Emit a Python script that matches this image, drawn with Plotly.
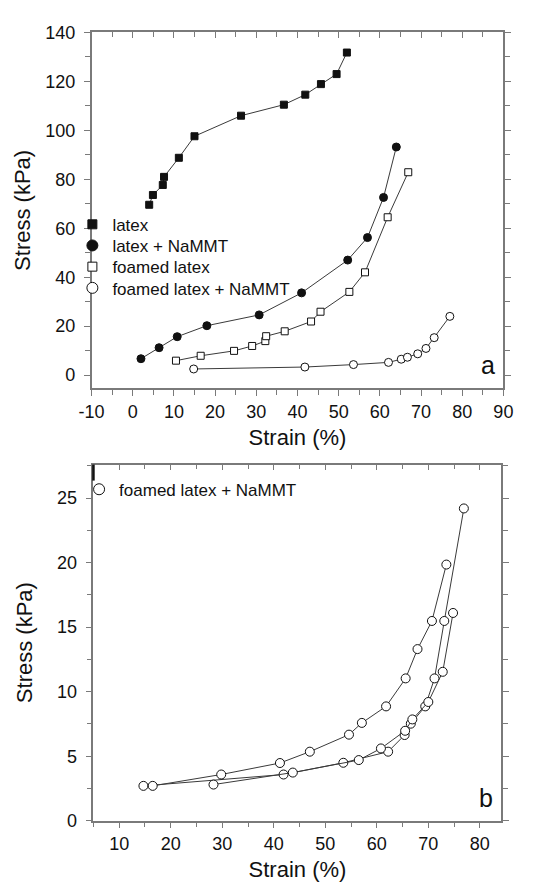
import plotly.graph_objects as go

# ---------------- data: panel a ----------------
latex_x = [4.0, 4.9, 7.3, 7.6, 11.2, 15.0, 26.3, 36.7, 41.9, 45.7, 49.5, 52.0]
latex_y = [69.6, 73.6, 77.7, 81.0, 88.8, 97.6, 106.0, 110.5, 114.6, 118.9, 123.0, 131.8]

latex_na_x = [2.0, 6.4, 10.8, 18.0, 30.7, 41.0, 52.2, 57.0, 60.9, 64.0]
latex_na_y = [6.7, 11.2, 15.7, 20.2, 24.6, 33.6, 47.0, 56.2, 72.6, 93.2]

foam_x = [10.5, 16.5, 24.6, 29.0, 32.2, 32.4, 36.9, 43.3, 45.6, 52.6, 56.4, 61.9, 66.9]
foam_y = [5.9, 7.9, 9.9, 11.9, 13.9, 15.9, 17.9, 21.9, 25.9, 34.0, 42.0, 64.5, 82.9]

foam_na_x = [14.8, 41.8, 53.6, 62.1, 65.2, 66.7, 69.2, 71.2, 73.2, 77.0]
foam_na_y = [2.5, 3.3, 4.3, 5.2, 6.5, 7.3, 8.7, 10.9, 15.3, 24.0]

# ---------------- data: panel b (three runs, foamed latex + NaMMT) ----------------
run1_x = [14.7, 41.9, 53.5, 62.2, 65.4, 66.6, 69.4, 71.2, 73.1, 76.9]
run1_y = [2.7, 3.58, 4.49, 5.35, 6.64, 7.52, 8.86, 11.03, 15.48, 24.2]

run2_x = [16.5, 29.8, 41.2, 47.0, 54.6, 57.1, 61.8, 65.6, 67.9, 70.7, 73.5]
run2_y = [2.7, 3.58, 4.47, 5.35, 6.67, 7.58, 8.86, 11.03, 13.3, 15.48, 19.85]

run3_x = [28.3, 43.7, 56.5, 60.8, 65.5, 66.9, 70.0, 72.8, 74.8]
run3_y = [2.8, 3.73, 4.7, 5.6, 6.97, 7.85, 9.2, 11.54, 16.1]

# tick labels (panel a x axis uses a plain hyphen for -10)
xa_tickvals = [-10, 0, 10, 20, 30, 40, 50, 60, 70, 80, 90]
xa_ticktext = ["-10", "0", "10", "20", "30", "40", "50", "60", "70", "80", "90"]

FONT = "Liberation Sans, Arial, sans-serif"
LINE_C = "#3a3a3a"
AX_C = "#7a7a7a"

W, H = 545, 892


def px_x(p):
    return p / W


def px_y(p):
    return 1 - p / H


fig = go.Figure()


def add(x, y, symbol, fill, xa, ya, size):
    fig.add_trace(go.Scatter(
        x=x, y=y, mode="lines+markers", xaxis=xa, yaxis=ya, showlegend=False,
        line=dict(color=LINE_C, width=1),
        marker=dict(symbol=symbol, size=size, color=fill,
                    line=dict(color="#111111", width=1)),
    ))


def add_legend(name, symbol, fill, legend, size):
    fig.add_trace(go.Scatter(
        x=[None], y=[None], name=name, mode="markers", legend=legend,
        showlegend=True, hoverinfo="skip",
        marker=dict(symbol=symbol, size=size, color=fill,
                    line=dict(color="#111111", width=1)),
    ))


add(latex_x, latex_y, "square", "#111111", "x", "y", 7)
add(latex_na_x, latex_na_y, "circle", "#111111", "x", "y", 8)
add(foam_x, foam_y, "square", "white", "x", "y", 7)
add(foam_na_x, foam_na_y, "circle", "white", "x", "y", 8)

add(run1_x, run1_y, "circle", "white", "x2", "y2", 9)
add(run2_x, run2_y, "circle", "white", "x2", "y2", 9)
add(run3_x, run3_y, "circle", "white", "x2", "y2", 9)

add_legend("latex", "square", "#111111", "legend", 9)
add_legend("latex + NaMMT", "circle", "#111111", "legend3", 11)
add_legend("foamed latex", "square", "white", "legend4", 9)
add_legend("foamed latex + NaMMT", "circle", "white", "legend5", 11)
add_legend("foamed latex + NaMMT", "circle", "white", "legend2", 11)

tickfont = dict(family=FONT, size=18, color="#111111")
titlefont = dict(family=FONT, size=22, color="#111111")


def xaxis_common(rng, dtick, minor, dom, anchor):
    return dict(range=rng, domain=dom, anchor=anchor, dtick=dtick,
                showgrid=False, zeroline=False, showline=True, linecolor=AX_C,
                linewidth=1.5, ticks="outside", ticklen=6, tickwidth=1.2,
                tickcolor=AX_C, mirror=False, tickfont=tickfont,
                minor=dict(dtick=minor, ticks="outside", ticklen=5,
                           tickwidth=1.2, tickcolor=AX_C))


def yaxis_common(rng, dtick, minor, dom, anchor):
    return dict(range=rng, domain=dom, anchor=anchor, dtick=dtick,
                showgrid=False, zeroline=False, showline=True, linecolor=AX_C,
                linewidth=1.5, ticks="outside", ticklen=6, tickwidth=1.2,
                tickcolor=AX_C, mirror="ticks", tickfont=tickfont,
                ticklabelstandoff=5,
                minor=dict(dtick=minor, ticks="outside", ticklen=5,
                           tickwidth=1.2, tickcolor=AX_C))


xa_dom = [px_x(82), px_x(512)]
ya_dom = [px_y(387), px_y(23)]
xb_dom = [px_x(84), px_x(510)]
yb_dom = [px_y(829.3), px_y(465)]

xaxis = xaxis_common([-10, 90], 10, 5, xa_dom, "y")
xaxis.update(tickmode="array", tickvals=xa_tickvals, ticktext=xa_ticktext)
xaxis["minor"]["tickmode"] = "linear"
xaxis["minor"]["tick0"] = -10
xaxis["title"] = dict(text="Strain (%)", font=titlefont, standoff=9)
yaxis = yaxis_common([-5.4, 140], 20, 10, ya_dom, "x")
yaxis["title"] = dict(text="Stress (kPa)", font=titlefont, standoff=8)

xaxis2 = xaxis_common([5, 84.2], 10, 5, xb_dom, "y2")
xaxis2["title"] = dict(text="Strain (%)", font=titlefont, standoff=9)
xaxis2["tick0"] = 0
yaxis2 = yaxis_common([0, 27.6], 5, 2.5, yb_dom, "x2")
yaxis2["title"] = dict(text="Stress (kPa)", font=titlefont, standoff=18)


def top_axis(match, anchor, dtick, minor):
    return dict(matches=match, overlaying=match, anchor=anchor, side="top",
                showgrid=False, zeroline=False, showline=True, linecolor=AX_C,
                linewidth=1.5, ticks="inside", ticklen=6, tickwidth=1.2,
                tickcolor=AX_C, showticklabels=False, dtick=dtick, tick0=0,
                minor=dict(dtick=minor, ticks="inside", ticklen=5,
                           tickwidth=1.2, tickcolor=AX_C))


def leg(xpx, ypx):
    return dict(x=px_x(xpx), y=px_y(ypx), xanchor="left", yanchor="middle",
                bgcolor="rgba(0,0,0,0)", font=dict(family=FONT, size=17, color="#111111"),
                itemwidth=30)


fig.update_layout(
    width=W, height=H,
    margin=dict(l=0, r=0, t=0, b=0),
    paper_bgcolor="white", plot_bgcolor="white",
    font=dict(family=FONT, color="#111111"),
    xaxis=xaxis, yaxis=yaxis, xaxis2=xaxis2, yaxis2=yaxis2,
    xaxis3=top_axis("x", "y", 10, 5),
    xaxis4=top_axis("x2", "y2", 10, 5),
    legend=leg(62, 219.7),
    legend3=leg(62, 241.3),
    legend4=leg(62, 263.0),
    legend5=leg(62, 284.7),
    legend2=leg(69, 490.7),
    showlegend=True,
)

# invisible traces to activate the top axes
fig.add_trace(go.Scatter(x=[None], y=[None], xaxis="x3", yaxis="y", showlegend=False, hoverinfo="skip"))
fig.add_trace(go.Scatter(x=[None], y=[None], xaxis="x4", yaxis="y2", showlegend=False, hoverinfo="skip"))

fig.add_annotation(text="a", xref="x domain", yref="y domain", x=0.985, y=0.02,
                   xanchor="right", yanchor="bottom", showarrow=False,
                   font=dict(family=FONT, size=25, color="#111111"))
fig.add_annotation(text="b", xref="x2 domain", yref="y2 domain", x=0.985, y=0.02,
                   xanchor="right", yanchor="bottom", showarrow=False,
                   font=dict(family=FONT, size=25, color="#111111"))

# thick dark mark at top of panel b left axis (present in the reference scan)
fig.add_shape(type="line", xref="x2 domain", yref="y2 domain", x0=0, x1=0,
              y0=1, y1=0.955, line=dict(color="#111111", width=2.5))

fig.write_html("out.html")
